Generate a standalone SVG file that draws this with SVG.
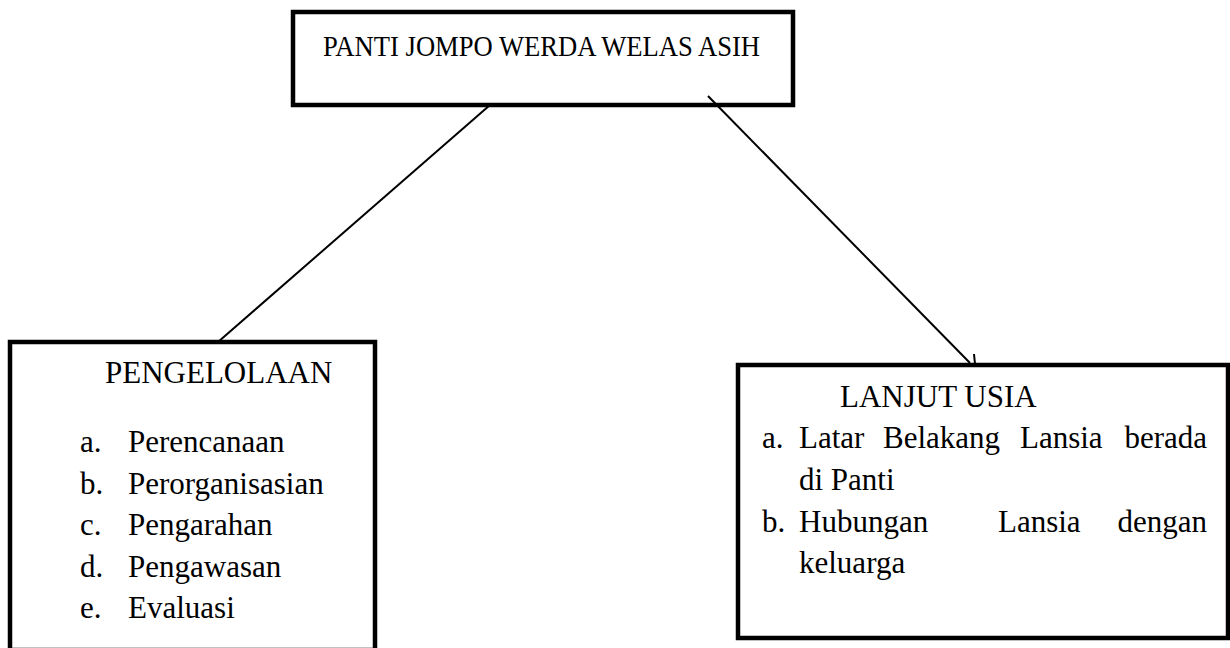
<svg xmlns="http://www.w3.org/2000/svg" width="1230" height="648" viewBox="0 0 1230 648">
<style>
.box{fill:#fff;stroke:#000;stroke-width:4.5}
.t{font-family:"Liberation Serif","Times New Roman",serif;font-size:31px;fill:#000}
.ttl{font-size:30px}
.conn{stroke:#000;stroke-width:2;fill:none}
</style>
<rect width="1230" height="648" fill="#fff"/>
<g id="node-panti">
<rect class="box" x="293" y="12" width="500" height="93"/>
<text class="t ttl" x="323" y="56" textLength="437" lengthAdjust="spacingAndGlyphs">PANTI JOMPO WERDA WELAS ASIH</text>
</g>
<g id="node-pengelolaan">
<rect class="box" x="10" y="342" width="365" height="308"/>
<text class="t" x="105" y="383">PENGELOLAAN</text>
<text class="t" x="80" y="452">a.</text><text class="t" x="128" y="452">Perencanaan</text>
<text class="t" x="80" y="494">b.</text><text class="t" x="128" y="494">Perorganisasian</text>
<text class="t" x="80" y="535">c.</text><text class="t" x="128" y="535">Pengarahan</text>
<text class="t" x="80" y="577">d.</text><text class="t" x="128" y="577">Pengawasan</text>
<text class="t" x="80" y="618">e.</text><text class="t" x="128" y="618">Evaluasi</text>
</g>
<g id="node-lansia">
<rect class="box" x="738" y="365" width="490" height="273"/>
<text class="t" x="840" y="407">LANJUT USIA</text>
<text class="t" x="762" y="448">a.</text>
<text class="t" x="799" y="448">Latar</text><text class="t" x="883" y="448">Belakang</text><text class="t" x="1020" y="448">Lansia</text><text class="t" x="1207" y="448" text-anchor="end">berada</text>
<text class="t" x="799" y="490">di Panti</text>
<text class="t" x="762" y="532">b.</text><text class="t" x="799" y="532">Hubungan</text><text class="t" x="998" y="532">Lansia</text><text class="t" x="1207" y="532" text-anchor="end">dengan</text>
<text class="t" x="799" y="573">keluarga</text>
</g>
<g id="connectors">
<line class="conn" x1="490" y1="105" x2="218" y2="342"/>
<line class="conn" x1="708" y1="96" x2="970" y2="363"/>
<line class="conn" x1="974" y1="354" x2="975" y2="364"/>
</g>
</svg>
